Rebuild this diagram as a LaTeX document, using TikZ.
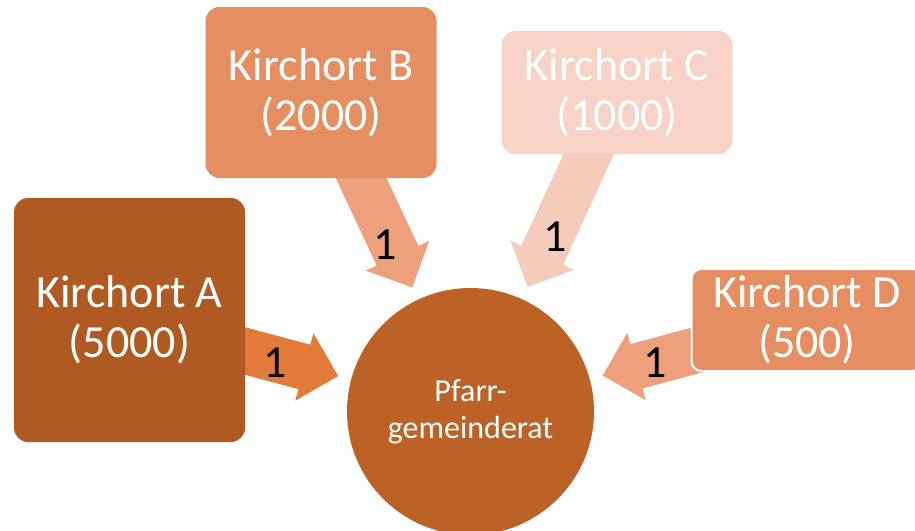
\documentclass[tikz,border=0pt]{standalone}
\usepackage{fontspec}
\setmainfont{Carlito}
\usetikzlibrary{calc}
\definecolor{boxA}{RGB}{176,90,35}
\definecolor{circ}{RGB}{188,98,38}
\definecolor{boxB}{RGB}{228,142,98}
\definecolor{arrA}{RGB}{226,123,58}
\definecolor{arrB}{RGB}{237,160,123}
\definecolor{boxC}{RGB}{246,211,198}
\definecolor{arrC}{RGB}{245,203,187}
\newcommand\blockarrow[4]{% #1 name, #2 tail, #3 tip, #4 colour
  \coordinate (#1h) at ($(#3)!35pt!(#2)$);
  \fill[#4] ($(#2)!23pt!90:(#3)$) -- ($(#1h)!23pt!90:(#3)$) -- ($(#1h)!35pt!90:(#3)$)
    -- (#3) -- ($(#1h)!35pt!-90:(#3)$) -- ($(#1h)!23pt!-90:(#3)$) -- ($(#2)!23pt!-90:(#3)$) -- cycle;
}
\begin{document}
\begin{tikzpicture}[x=1pt,y=-1pt,
  kbox/.style={rounded corners=14pt, minimum width=231pt, inner sep=0pt, text=white,
    align=center, font=\fontsize{46}{50}\selectfont},
  one/.style={text=black, font=\fontsize{46}{50}\selectfont, inner sep=0pt}]
\useasboundingbox (0,0) rectangle (915,530);
\clip (0,0) rectangle (915,530);
% node centres (invisible anchors for arrows)
\coordinate (pc) at (470.5,411.5);
\coordinate (ac) at (129.5,320);
\coordinate (bc) at (321,92.5);
\coordinate (cc) at (617,92.5);
\coordinate (dc) at (807,320);
% arrows
\coordinate (ta) at ($(pc)!137pt!(ac)$);
\coordinate (tb) at ($(pc)!137pt!(bc)$);
\coordinate (tc) at ($(pc)!137pt!(cc)$);
\coordinate (td) at ($(pc)!137pt!(dc)$);
\blockarrow{aa}{ac}{ta}{arrA}
\blockarrow{ab}{bc}{tb}{arrB}
\blockarrow{ac}{cc}{tc}{arrC}
\blockarrow{ad}{dc}{td}{arrB}
% boxes
\node[kbox, fill=boxA, minimum height=244pt] (A) at (ac) {Kirchort A\\(5000)};
\node[kbox, fill=boxB, minimum height=171pt] (B) at (bc) {Kirchort B\\(2000)};
\node[kbox, fill=boxC, minimum height=123pt] (C) at (cc) {Kirchort C\\(1000)};
\node[kbox, fill=boxB, draw=white, line width=2pt, minimum height=102pt, rounded corners=10pt] (D) at (dc) {Kirchort D\\(500)};
% circle
\node[circle, fill=circ, minimum size=247pt, inner sep=0pt, text=white, align=center,
  font=\fontsize{32}{37}\selectfont] (P) at (pc) {Pfarr-\\gemeinderat};
% labels
\node[one] (la) at (275,363) {1};
\node[one] (lb) at (385,245) {1};
\node[one] (lc) at (555,237) {1};
\node[one] (ld) at (655,363) {1};
\end{tikzpicture}
\end{document}
